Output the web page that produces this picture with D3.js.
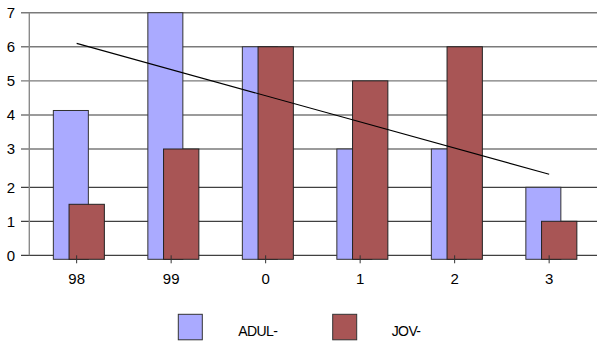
<!DOCTYPE html>
<html>
<head>
<meta charset="utf-8">
<script src="https://cdn.jsdelivr.net/npm/d3@7"></script>
<style>
  html, body { margin: 0; padding: 0; background: #fff; }
  svg { display: block; font-family: "Liberation Sans", Arial, sans-serif; }
</style>
</head>
<body>
<svg id="chart" width="599" height="343"></svg>
<script>
// ---- data ----
const categories = ["98", "99", "0", "1", "2", "3"];
const adulValues = [4.13, 7, 6, 3, 3, 2];
const jovValues  = [1.5, 3, 6, 5, 6, 1];
const trendValues = [6.1, 2.34];           // linear trend of ADUL- (first & last category)
const yTicks = [0, 1, 2, 3, 4, 5, 6, 7];
const seriesNames = ["ADUL-", "JOV-"];
const seriesColors = ["#AAAAFF", "#A85555"];

// ---- layout ----
const svg = d3.select("#chart");
const x = d3.scaleBand().domain(categories).range([29.4, 596.4]).padding(0);
const y = d3.scaleLinear().domain([0, 2, 3, 7]).range([255.3, 187.3, 149, 12.7]);
const cx = c => x(c) + x.bandwidth() / 2;

// gridlines
svg.append("g").selectAll("line").data(yTicks).join("line")
  .attr("x1", 21).attr("x2", 597)
  .attr("y1", d => y(d)).attr("y2", d => y(d))
  .attr("stroke", d => d <= 2 ? "#111" : "#7a7a7a")
  .attr("stroke-width", d => d <= 2 ? 1 : 1.4);

// left axis vertical line
svg.append("line")
  .attr("x1", 29.3).attr("x2", 29.3)
  .attr("y1", y(7)).attr("y2", y(0))
  .attr("stroke", "#8a8a8a").attr("stroke-width", 1.4);

// y labels
const yAxis = svg.append("g").attr("transform", "translate(21,0)")
  .call(d3.axisLeft(y).tickValues(yTicks).tickSize(0).tickPadding(6).tickFormat(d3.format("d")));
yAxis.select(".domain").remove();
yAxis.selectAll("text").attr("font-size", 15).attr("fill", "#000")
  .attr("font-family", "Liberation Sans, Arial, sans-serif");

const base = y(0) + 4;

// ADUL bars
svg.append("g").selectAll("rect").data(categories).join("rect")
  .attr("x", (c) => cx(c) - 23.3)
  .attr("width", 35)
  .attr("y", (c, i) => y(adulValues[i]))
  .attr("height", (c, i) => base - y(adulValues[i]))
  .attr("fill", seriesColors[0])
  .attr("stroke", "#333").attr("stroke-width", 1);

// JOV bars
svg.append("g").selectAll("rect").data(categories).join("rect")
  .attr("x", (c) => cx(c) - 7.6)
  .attr("width", 35.3)
  .attr("y", (c, i) => y(jovValues[i]))
  .attr("height", (c, i) => base - y(jovValues[i]))
  .attr("fill", seriesColors[1])
  .attr("stroke", "#222").attr("stroke-width", 1);

// x axis ticks + labels
const xAxis = svg.append("g").attr("transform", `translate(0,${y(0)})`)
  .call(d3.axisBottom(x).tickSize(8).tickPadding(10));
xAxis.select(".domain").remove();
xAxis.selectAll(".tick line").attr("stroke", "#333");
xAxis.selectAll("text").attr("font-size", 15).attr("fill", "#000")
  .attr("font-family", "Liberation Sans, Arial, sans-serif");

// trend line
const trendCats = [categories[0], categories[categories.length - 1]];
svg.append("path")
  .datum(trendValues.map((v, i) => [cx(trendCats[i]), y(v)]))
  .attr("d", d3.line())
  .attr("fill", "none").attr("stroke", "#000").attr("stroke-width", 1.1);

// legend
const legendX = [178.3, 332.7];
const legendTextX = [238.3, 391.7];
const lg = svg.append("g");
seriesNames.forEach((name, i) => {
  lg.append("rect")
    .attr("x", legendX[i]).attr("y", 314.3)
    .attr("width", 24).attr("height", 25.5)
    .attr("fill", seriesColors[i]).attr("stroke", "#333").attr("stroke-width", 1);
  lg.append("text")
    .attr("x", legendTextX[i]).attr("y", 336)
    .attr("font-size", 14).attr("letter-spacing", -0.6)
    .text(name);
});
</script>
</body>
</html>
